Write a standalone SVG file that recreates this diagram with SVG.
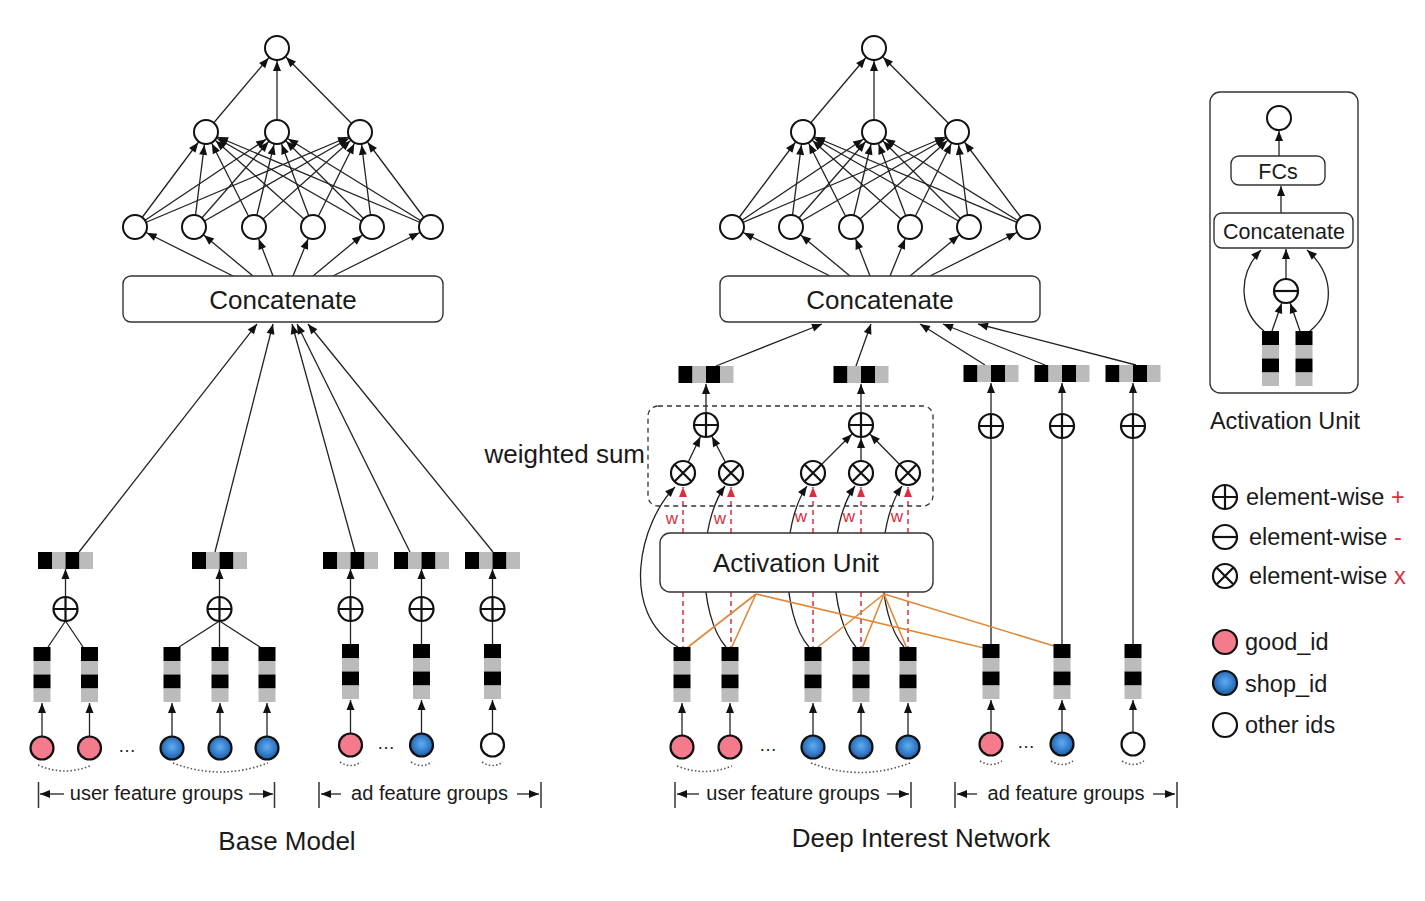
<svg xmlns="http://www.w3.org/2000/svg" xmlns:xlink="http://www.w3.org/1999/xlink" width="1425" height="901" viewBox="0 0 1425 901">
<style>
.n{fill:#fff;stroke:#111;stroke-width:2}
.e{stroke:#222;stroke-width:1.3;fill:none}
.ec{marker-end:url(#ac)}
.ea{marker-end:url(#a)}
.bx{fill:#fff;stroke:#333;stroke-width:1.4}
.t{font-family:"Liberation Sans",Arial,Helvetica,sans-serif;fill:#1a1a1a}
.or{stroke:#e0883a;stroke-width:1.6;fill:none}
.rd{stroke:#d8303e;stroke-width:1.5;stroke-dasharray:5 4;fill:none}
.rda{marker-end:url(#ar)}
.dt{stroke:#555;stroke-width:1.6;stroke-dasharray:1.5 2.2;fill:none}
.pk{fill:#f47b8c;stroke:#111;stroke-width:2.2}
.bl{fill:url(#blg);stroke:#111;stroke-width:2.2}
.wh{fill:#fff;stroke:#111;stroke-width:2.2}
.bar{stroke:#333;stroke-width:1.5}
.big{font-size:26px}
.lab{font-size:20px}
.leg{font-size:23.5px}
.w{font-size:17px;fill:#d8303e}
.red{fill:#d8303e}
</style>
<defs>
<marker id="a" viewBox="0 0 10 8" refX="10" refY="4" markerWidth="10" markerHeight="8" markerUnits="userSpaceOnUse" orient="auto" overflow="visible"><path d="M0,0L10,4L0,8z" fill="#111"/></marker>
<marker id="ac" viewBox="0 0 23 8" refX="23" refY="4" markerWidth="23" markerHeight="8" markerUnits="userSpaceOnUse" orient="auto" overflow="visible"><path d="M0,0L10,4L0,8z" fill="#111"/></marker>
<marker id="ar" viewBox="0 0 10 8" refX="10" refY="4" markerWidth="10" markerHeight="8" markerUnits="userSpaceOnUse" orient="auto" overflow="visible"><path d="M0,0L10,4L0,8z" fill="#d8303e"/></marker>
<radialGradient id="blg" cx="50%" cy="45%" r="55%"><stop offset="0" stop-color="#5eaef2"/><stop offset="0.7" stop-color="#2f75c2"/><stop offset="1" stop-color="#1d5a9e"/></radialGradient>
<g id="op"><circle r="12" fill="#fff" stroke="#111" stroke-width="2.2"/><path d="M-12,0H12M0,-12V12" stroke="#111" stroke-width="2.2"/></g>
<g id="om"><circle r="12" fill="#fff" stroke="#111" stroke-width="2.2"/><path d="M-12,0H12" stroke="#111" stroke-width="2.2"/></g>
<g id="ox"><circle r="12" fill="#fff" stroke="#111" stroke-width="2.2"/><path d="M-8.5,-8.5L8.5,8.5M8.5,-8.5L-8.5,8.5" stroke="#111" stroke-width="2.2"/></g>
<g id="vb"><rect width="17" height="14" fill="#000"/><rect y="14" width="17" height="13.5" fill="#bbb"/><rect y="27.5" width="17" height="14" fill="#000"/><rect y="41.5" width="17" height="13.5" fill="#bbb"/></g>
<g id="hb"><rect width="14" height="17" fill="#000"/><rect x="14" width="13.5" height="17" fill="#bbb"/><rect x="27.5" width="14" height="17" fill="#000"/><rect x="41.5" width="13.5" height="17" fill="#bbb"/></g>
</defs>

<!-- ============ CONNECTORS ============ -->
<g id="connectors">
 <!-- Base model MLP -->
 <g class="e ec">
  <line x1="135" y1="227" x2="206" y2="132"/><line x1="135" y1="227" x2="277" y2="132"/><line x1="135" y1="227" x2="360" y2="132"/>
  <line x1="194" y1="227" x2="206" y2="132"/><line x1="194" y1="227" x2="277" y2="132"/><line x1="194" y1="227" x2="360" y2="132"/>
  <line x1="254" y1="227" x2="206" y2="132"/><line x1="254" y1="227" x2="277" y2="132"/><line x1="254" y1="227" x2="360" y2="132"/>
  <line x1="313" y1="227" x2="206" y2="132"/><line x1="313" y1="227" x2="277" y2="132"/><line x1="313" y1="227" x2="360" y2="132"/>
  <line x1="372" y1="227" x2="206" y2="132"/><line x1="372" y1="227" x2="277" y2="132"/><line x1="372" y1="227" x2="360" y2="132"/>
  <line x1="431" y1="227" x2="206" y2="132"/><line x1="431" y1="227" x2="277" y2="132"/><line x1="431" y1="227" x2="360" y2="132"/>
  <line x1="206" y1="132" x2="277" y2="48"/><line x1="277" y1="132" x2="277" y2="48"/><line x1="360" y1="132" x2="277" y2="48"/>
  <line x1="233" y1="276" x2="135" y2="227"/><line x1="253" y1="276" x2="194" y2="227"/><line x1="273" y1="276" x2="254" y2="227"/>
  <line x1="293" y1="276" x2="313" y2="227"/><line x1="313" y1="276" x2="372" y2="227"/><line x1="333" y1="276" x2="431" y2="227"/>
 </g>
 <!-- Base model embeddings -->
 <g class="e ea">
  <line x1="79" y1="552" x2="257" y2="324"/><line x1="215" y1="552" x2="273" y2="324"/><line x1="355" y1="552" x2="292" y2="324"/>
  <line x1="410" y1="552" x2="297" y2="324"/><line x1="493" y1="552" x2="308" y2="324"/>
  <line x1="65.5" y1="596" x2="65.5" y2="569"/><line x1="219.5" y1="596" x2="219.5" y2="569"/><line x1="350.5" y1="596" x2="350.5" y2="569"/>
  <line x1="421.5" y1="596" x2="421.5" y2="569"/><line x1="492.5" y1="596" x2="492.5" y2="569"/>
  <line x1="42" y1="736" x2="42" y2="703"/><line x1="89.5" y1="736" x2="89.5" y2="703"/><line x1="172" y1="736" x2="172" y2="703"/>
  <line x1="220" y1="736" x2="220" y2="703"/><line x1="267" y1="736" x2="267" y2="703"/>
  <line x1="350.5" y1="733" x2="350.5" y2="700"/><line x1="421.5" y1="733" x2="421.5" y2="700"/><line x1="492.5" y1="733" x2="492.5" y2="700"/>
 </g>
 <g class="e">
  <line x1="65.5" y1="621" x2="48" y2="647"/><line x1="65.5" y1="621" x2="83" y2="647"/>
  <line x1="219.5" y1="621" x2="179" y2="647"/><line x1="219.5" y1="621" x2="219.5" y2="647"/><line x1="219.5" y1="621" x2="260" y2="647"/>
  <line x1="350.5" y1="621" x2="350.5" y2="644"/><line x1="421.5" y1="621" x2="421.5" y2="644"/><line x1="492.5" y1="621" x2="492.5" y2="644"/>
 </g>

 <!-- DIN MLP -->
 <g class="e ec">
  <line x1="732" y1="227" x2="803" y2="132"/><line x1="732" y1="227" x2="874" y2="132"/><line x1="732" y1="227" x2="957" y2="132"/>
  <line x1="791" y1="227" x2="803" y2="132"/><line x1="791" y1="227" x2="874" y2="132"/><line x1="791" y1="227" x2="957" y2="132"/>
  <line x1="851" y1="227" x2="803" y2="132"/><line x1="851" y1="227" x2="874" y2="132"/><line x1="851" y1="227" x2="957" y2="132"/>
  <line x1="910" y1="227" x2="803" y2="132"/><line x1="910" y1="227" x2="874" y2="132"/><line x1="910" y1="227" x2="957" y2="132"/>
  <line x1="969" y1="227" x2="803" y2="132"/><line x1="969" y1="227" x2="874" y2="132"/><line x1="969" y1="227" x2="957" y2="132"/>
  <line x1="1028" y1="227" x2="803" y2="132"/><line x1="1028" y1="227" x2="874" y2="132"/><line x1="1028" y1="227" x2="957" y2="132"/>
  <line x1="803" y1="132" x2="874" y2="48"/><line x1="874" y1="132" x2="874" y2="48"/><line x1="957" y1="132" x2="874" y2="48"/>
  <line x1="830" y1="276" x2="732" y2="227"/><line x1="850" y1="276" x2="791" y2="227"/><line x1="870" y1="276" x2="851" y2="227"/>
  <line x1="890" y1="276" x2="910" y2="227"/><line x1="910" y1="276" x2="969" y2="227"/><line x1="930" y1="276" x2="1028" y2="227"/>
  <line x1="683" y1="473" x2="706" y2="425"/><line x1="731" y1="473" x2="706" y2="425"/>
  <line x1="813" y1="473" x2="861" y2="425"/><line x1="861" y1="473" x2="861" y2="425"/><line x1="908" y1="473" x2="861" y2="425"/>
 </g>
 <g class="e ea">
  <line x1="716" y1="366" x2="822" y2="324"/><line x1="856" y1="366" x2="871" y2="324"/><line x1="985" y1="365" x2="920" y2="324"/>
  <line x1="1045" y1="365" x2="943" y2="324"/><line x1="1136" y1="365" x2="978" y2="324"/>
  <line x1="706" y1="412" x2="706" y2="384"/><line x1="861" y1="412" x2="861" y2="384"/>
  <line x1="991" y1="413" x2="991" y2="383"/><line x1="1062" y1="413" x2="1062" y2="383"/><line x1="1133" y1="413" x2="1133" y2="383"/>
  <line x1="682" y1="735" x2="682" y2="703"/><line x1="730" y1="735" x2="730" y2="703"/><line x1="813" y1="735" x2="813" y2="703"/>
  <line x1="861" y1="735" x2="861" y2="703"/><line x1="908" y1="735" x2="908" y2="703"/>
  <line x1="991" y1="732" x2="991" y2="700"/><line x1="1062" y1="732" x2="1062" y2="700"/><line x1="1133" y1="732" x2="1133" y2="700"/>
  <path d="M678,647C618,612 640,522 675,487"/>
  <path d="M726,647C698,615 697,525 725,486"/>
  <path d="M809,647C781,615 780,525 807,486"/>
  <path d="M856,647C828,615 827,525 855,486"/>
  <path d="M904,647C876,615 875,525 902,486"/>
 </g>
 <g class="e">
  <line x1="991" y1="438" x2="991" y2="644"/><line x1="1062" y1="438" x2="1062" y2="644"/><line x1="1133" y1="438" x2="1133" y2="644"/>
 </g>
 <g class="rd rda">
  <line x1="683" y1="533" x2="683" y2="487"/><line x1="731" y1="533" x2="731" y2="487"/><line x1="813" y1="533" x2="813" y2="487"/>
  <line x1="861" y1="533" x2="861" y2="487"/><line x1="908" y1="533" x2="908" y2="487"/>
 </g>
 <g class="rd">
  <line x1="683" y1="592" x2="683" y2="650"/><line x1="731" y1="592" x2="731" y2="650"/><line x1="813" y1="592" x2="813" y2="650"/>
  <line x1="861" y1="592" x2="861" y2="650"/><line x1="908" y1="592" x2="908" y2="650"/>
 </g>
 <g class="or">
  <line x1="756" y1="594" x2="683" y2="651"/><line x1="756" y1="594" x2="730" y2="651"/><line x1="756" y1="594" x2="984" y2="648"/>
  <line x1="884" y1="594" x2="813" y2="651"/><line x1="884" y1="594" x2="861" y2="651"/><line x1="884" y1="594" x2="908" y2="651"/>
  <line x1="884" y1="594" x2="1054" y2="646"/>
 </g>

 <!-- Activation unit panel -->
 <g class="e ea">
  <line x1="1279" y1="156" x2="1279" y2="131"/>
  <line x1="1281" y1="213" x2="1281" y2="186"/>
  <line x1="1286" y1="278" x2="1286" y2="249"/>
  <path d="M1264,331C1240,312 1236,276 1261,250"/>
  <path d="M1310,331C1334,312 1336,276 1307,250"/>
 </g>
 <g class="e ec">
  <line x1="1272" y1="331" x2="1286" y2="291"/><line x1="1300" y1="331" x2="1286" y2="291"/>
 </g>

 <!-- group range arrows -->
 <g class="e ea">
  <line x1="64" y1="794" x2="40" y2="794"/><line x1="249" y1="794" x2="273" y2="794"/>
  <line x1="341" y1="794" x2="321" y2="794"/><line x1="517" y1="794" x2="539" y2="794"/>
  <line x1="699" y1="794" x2="677" y2="794"/><line x1="887" y1="794" x2="909" y2="794"/>
  <line x1="977" y1="794" x2="957" y2="794"/><line x1="1153" y1="794" x2="1175" y2="794"/>
 </g>
 <g class="bar">
  <line x1="38.5" y1="782" x2="38.5" y2="808"/><line x1="274.5" y1="782" x2="274.5" y2="808"/>
  <line x1="319" y1="782" x2="319" y2="808"/><line x1="541" y1="782" x2="541" y2="808"/>
  <line x1="675" y1="782" x2="675" y2="808"/><line x1="911" y1="782" x2="911" y2="808"/>
  <line x1="955" y1="782" x2="955" y2="808"/><line x1="1177" y1="782" x2="1177" y2="808"/>
 </g>
 <g class="dt">
  <path d="M38,765Q65,777 92,765"/><path d="M173,763Q220,781 268,763"/>
  <path d="M340,762Q350.5,769 361,762"/><path d="M411,762Q421.5,769 432,762"/><path d="M482,762Q492.5,769 503,762"/>
  <path d="M677,766Q705,777 732,766"/><path d="M811,763Q860,782 910,763"/>
  <path d="M980,761Q991,768 1002,761"/><path d="M1051,761Q1062,768 1073,761"/><path d="M1122,761Q1133,768 1144,761"/>
 </g>
</g>

<!-- ============ BASE MODEL NODES ============ -->
<g id="base-out"><circle class="n" cx="277" cy="48" r="12"/></g>
<g id="base-h2-1"><circle class="n" cx="206" cy="132" r="12"/></g>
<g id="base-h2-2"><circle class="n" cx="277" cy="132" r="12"/></g>
<g id="base-h2-3"><circle class="n" cx="360" cy="132" r="12"/></g>
<g id="base-h1-1"><circle class="n" cx="135" cy="227" r="12"/></g>
<g id="base-h1-2"><circle class="n" cx="194" cy="227" r="12"/></g>
<g id="base-h1-3"><circle class="n" cx="254" cy="227" r="12"/></g>
<g id="base-h1-4"><circle class="n" cx="313" cy="227" r="12"/></g>
<g id="base-h1-5"><circle class="n" cx="372" cy="227" r="12"/></g>
<g id="base-h1-6"><circle class="n" cx="431" cy="227" r="12"/></g>
<g id="base-concat"><rect class="bx" x="123" y="276" width="320" height="46" rx="8"/><text class="t big" x="283" y="309" text-anchor="middle">Concatenate</text></g>
<g id="base-pool1"><use xlink:href="#hb" x="38" y="552"/><use xlink:href="#op" x="65.5" y="609"/></g>
<g id="base-pool2"><use xlink:href="#hb" x="192" y="552"/><use xlink:href="#op" x="219.5" y="609"/></g>
<g id="base-pool3"><use xlink:href="#hb" x="323" y="552"/><use xlink:href="#op" x="350.5" y="609"/></g>
<g id="base-pool4"><use xlink:href="#hb" x="394" y="552"/><use xlink:href="#op" x="421.5" y="609"/></g>
<g id="base-pool5"><use xlink:href="#hb" x="465" y="552"/><use xlink:href="#op" x="492.5" y="609"/></g>
<g id="base-emb">
 <use xlink:href="#vb" x="33.5" y="647"/><use xlink:href="#vb" x="81" y="647"/>
 <use xlink:href="#vb" x="163.5" y="647"/><use xlink:href="#vb" x="211.5" y="647"/><use xlink:href="#vb" x="258.5" y="647"/>
 <use xlink:href="#vb" x="342" y="644"/><use xlink:href="#vb" x="413" y="644"/><use xlink:href="#vb" x="484" y="644"/>
</g>
<g id="base-ids">
 <circle class="pk" cx="42" cy="748" r="11.5"/><circle class="pk" cx="89.5" cy="748" r="11.5"/>
 <circle class="bl" cx="172" cy="748" r="11.5"/><circle class="bl" cx="220" cy="748" r="11.5"/><circle class="bl" cx="267" cy="748" r="11.5"/>
 <circle class="pk" cx="350.5" cy="745" r="11.5"/><circle class="bl" cx="421.5" cy="745" r="11.5"/><circle class="wh" cx="492.5" cy="745" r="11.5"/>
 <text class="t" x="127" y="752" font-size="18" text-anchor="middle">…</text>
 <text class="t" x="386" y="749" font-size="18" text-anchor="middle">…</text>
</g>
<g id="base-labels">
 <text class="t lab" x="156.5" y="800" text-anchor="middle">user feature groups</text>
 <text class="t lab" x="429.5" y="800" text-anchor="middle">ad feature groups</text>
 <text class="t big" x="287" y="850" text-anchor="middle">Base Model</text>
</g>

<!-- ============ DIN NODES ============ -->
<g id="din-out"><circle class="n" cx="874" cy="48" r="12"/></g>
<g id="din-h2-1"><circle class="n" cx="803" cy="132" r="12"/></g>
<g id="din-h2-2"><circle class="n" cx="874" cy="132" r="12"/></g>
<g id="din-h2-3"><circle class="n" cx="957" cy="132" r="12"/></g>
<g id="din-h1-1"><circle class="n" cx="732" cy="227" r="12"/></g>
<g id="din-h1-2"><circle class="n" cx="791" cy="227" r="12"/></g>
<g id="din-h1-3"><circle class="n" cx="851" cy="227" r="12"/></g>
<g id="din-h1-4"><circle class="n" cx="910" cy="227" r="12"/></g>
<g id="din-h1-5"><circle class="n" cx="969" cy="227" r="12"/></g>
<g id="din-h1-6"><circle class="n" cx="1028" cy="227" r="12"/></g>
<g id="din-concat"><rect class="bx" x="720" y="276" width="320" height="46" rx="8"/><text class="t big" x="880" y="309" text-anchor="middle">Concatenate</text></g>
<g id="din-weighted-sum">
 <rect x="648" y="406" width="285" height="100" rx="10" fill="none" stroke="#333" stroke-width="1.3" stroke-dasharray="5 4"/>
 <text class="t big" x="645" y="463" text-anchor="end">weighted sum</text>
</g>
<g id="din-pool-a"><use xlink:href="#hb" x="678.5" y="366"/><use xlink:href="#op" x="706" y="425"/></g>
<g id="din-pool-b"><use xlink:href="#hb" x="833.5" y="366"/><use xlink:href="#op" x="861" y="425"/></g>
<g id="din-pool-c"><use xlink:href="#hb" x="963.5" y="365"/><use xlink:href="#op" x="991" y="426"/></g>
<g id="din-pool-d"><use xlink:href="#hb" x="1034.5" y="365"/><use xlink:href="#op" x="1062" y="426"/></g>
<g id="din-pool-e"><use xlink:href="#hb" x="1105.5" y="365"/><use xlink:href="#op" x="1133" y="426"/></g>
<g id="din-mul">
 <use xlink:href="#ox" x="683" y="473"/><use xlink:href="#ox" x="731" y="473"/>
 <use xlink:href="#ox" x="813" y="473"/><use xlink:href="#ox" x="861" y="473"/><use xlink:href="#ox" x="908" y="473"/>
</g>
<g id="din-w">
 <text class="t w" x="672" y="524" text-anchor="middle">w</text><text class="t w" x="720" y="524" text-anchor="middle">w</text>
 <text class="t w" x="801" y="522" text-anchor="middle">w</text><text class="t w" x="849" y="522" text-anchor="middle">w</text>
 <text class="t w" x="897" y="522" text-anchor="middle">w</text>
</g>
<g id="din-activation"><rect class="bx" x="660" y="533" width="273" height="59" rx="10"/><text class="t big" x="796" y="572" text-anchor="middle">Activation Unit</text></g>
<g id="din-emb">
 <use xlink:href="#vb" x="673.5" y="647"/><use xlink:href="#vb" x="721.5" y="647"/>
 <use xlink:href="#vb" x="804.5" y="647"/><use xlink:href="#vb" x="852.5" y="647"/><use xlink:href="#vb" x="899.5" y="647"/>
 <use xlink:href="#vb" x="982.5" y="644"/><use xlink:href="#vb" x="1053.5" y="644"/><use xlink:href="#vb" x="1124.5" y="644"/>
</g>
<g id="din-ids">
 <circle class="pk" cx="682" cy="747" r="11.5"/><circle class="pk" cx="730" cy="747" r="11.5"/>
 <circle class="bl" cx="813" cy="747" r="11.5"/><circle class="bl" cx="861" cy="747" r="11.5"/><circle class="bl" cx="908" cy="747" r="11.5"/>
 <circle class="pk" cx="991" cy="744" r="11.5"/><circle class="bl" cx="1062" cy="744" r="11.5"/><circle class="wh" cx="1133" cy="744" r="11.5"/>
 <text class="t" x="768" y="751" font-size="18" text-anchor="middle">…</text>
 <text class="t" x="1026" y="748" font-size="18" text-anchor="middle">…</text>
</g>
<g id="din-labels">
 <text class="t lab" x="793" y="800" text-anchor="middle">user feature groups</text>
 <text class="t lab" x="1066" y="800" text-anchor="middle">ad feature groups</text>
 <text class="t big" x="921" y="847" text-anchor="middle">Deep Interest Network</text>
</g>

<!-- ============ ACTIVATION UNIT PANEL ============ -->
<g id="au-panel"><rect x="1210" y="92" width="148" height="301" rx="10" fill="none" stroke="#333" stroke-width="1.4"/></g>
<g id="au-out"><circle class="n" cx="1279" cy="118" r="12"/></g>
<g id="au-fcs"><rect class="bx" x="1231" y="156" width="94" height="29" rx="8"/><text class="t" x="1278" y="178.5" font-size="21.5" text-anchor="middle">FCs</text></g>
<g id="au-concat"><rect class="bx" x="1214" y="213" width="139" height="35" rx="8"/><text class="t" x="1284" y="238.5" font-size="21.5" text-anchor="middle">Concatenate</text></g>
<g id="au-minus"><use xlink:href="#om" x="1286" y="291"/></g>
<g id="au-emb"><use xlink:href="#vb" x="1262" y="331"/><use xlink:href="#vb" x="1295.5" y="331"/></g>
<g id="au-label"><text class="t leg" x="1285" y="429" text-anchor="middle">Activation Unit</text></g>

<!-- ============ LEGEND ============ -->
<g id="legend">
 <use xlink:href="#op" x="1225" y="497"/>
 <text class="t leg" x="1246" y="505">element-wise <tspan class="red">+</tspan></text>
 <use xlink:href="#om" x="1225" y="537"/>
 <text class="t leg" x="1249" y="545">element-wise <tspan class="red">-</tspan></text>
 <use xlink:href="#ox" x="1225" y="576"/>
 <text class="t leg" x="1249" y="584">element-wise <tspan class="red">x</tspan></text>
 <circle class="pk" cx="1225" cy="642" r="12"/>
 <text class="t leg" x="1245" y="650">good_id</text>
 <circle class="bl" cx="1225" cy="683" r="12"/>
 <text class="t leg" x="1245" y="692">shop_id</text>
 <circle class="wh" cx="1225" cy="725" r="12"/>
 <text class="t leg" x="1245" y="733">other ids</text>
</g>
</svg>
